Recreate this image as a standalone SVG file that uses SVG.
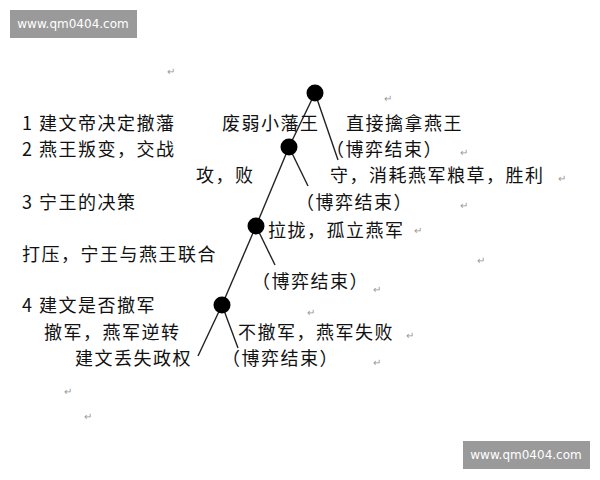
<svg xmlns="http://www.w3.org/2000/svg" width="600" height="480" viewBox="0 0 600 480">
<style>
text{font-family:"Noto Sans CJK SC","Noto Sans",sans-serif;font-size:18px;letter-spacing:1.5px;fill:#111;dominant-baseline:central}
.wm{font-family:"DejaVu Sans",sans-serif;font-size:12px;letter-spacing:0;fill:#fff}
.pm{font-size:10px;letter-spacing:0;fill:#999}
line{stroke:#222;stroke-width:1.4}
</style>
<rect width="600" height="480" fill="#fff"/>
<g id="wm1"><rect x="10" y="10" width="127" height="28" fill="#9a9a9a"/><text class="wm" x="73" y="24" text-anchor="middle">www.qm0404.com</text></g>
<g id="wm2"><rect x="463" y="441" width="127" height="28" fill="#9a9a9a"/><text class="wm" x="526" y="455" text-anchor="middle">www.qm0404.com</text></g>
<g id="connectors">
<line x1="315" y1="93" x2="289" y2="147"/>
<line x1="315" y1="93" x2="338" y2="160"/>
<line x1="289" y1="147" x2="256" y2="226"/>
<line x1="289" y1="147" x2="308" y2="186"/>
<line x1="256" y1="226" x2="222" y2="305"/>
<line x1="256" y1="226" x2="275" y2="265"/>
<line x1="222" y1="305" x2="198" y2="356"/>
<line x1="222" y1="305" x2="238" y2="348"/>
</g>
<g id="n1"><circle cx="315" cy="93" r="8.5"/></g>
<g id="n2"><circle cx="289" cy="147" r="8.5"/></g>
<g id="n3"><circle cx="256" cy="226" r="8.5"/></g>
<g id="n4"><circle cx="222" cy="305" r="8.5"/></g>
<g id="labels">
<text x="22" y="122">1 建文帝决定撤藩</text>
<text x="222" y="122">废弱小藩王</text>
<text x="346" y="122">直接擒拿燕王</text>
<text x="22" y="148">2 燕王叛变，交战</text>
<text x="326" y="148">（博弈结束）</text>
<text x="196" y="174">攻，败</text>
<text x="330" y="174">守，消耗燕军粮草，胜利</text>
<text x="22" y="201">3 宁王的决策</text>
<text x="296" y="201">（博弈结束）</text>
<text x="268" y="229">拉拢，孤立燕军</text>
<text x="22" y="253">打压，宁王与燕王联合</text>
<text x="252" y="280">（博弈结束）</text>
<text x="22" y="304">4 建文是否撤军</text>
<text x="44" y="331">撤军，燕军逆转</text>
<text x="238" y="331">不撤军，燕军失败</text>
<text x="75" y="357">建文丢失政权</text>
<text x="222" y="357">（博弈结束）</text>
</g>
<g id="marks">
<text class="pm" x="167" y="70">↵</text>
<text class="pm" x="384" y="97">↵</text>
<text class="pm" x="460" y="151">↵</text>
<text class="pm" x="558" y="177">↵</text>
<text class="pm" x="460" y="204">↵</text>
<text class="pm" x="414" y="229">↵</text>
<text class="pm" x="477" y="259">↵</text>
<text class="pm" x="373" y="288">↵</text>
<text class="pm" x="307" y="311">↵</text>
<text class="pm" x="406" y="334">↵</text>
<text class="pm" x="373" y="361">↵</text>
<text class="pm" x="64" y="390">↵</text>
<text class="pm" x="84" y="415">↵</text>
</g>
</svg>
